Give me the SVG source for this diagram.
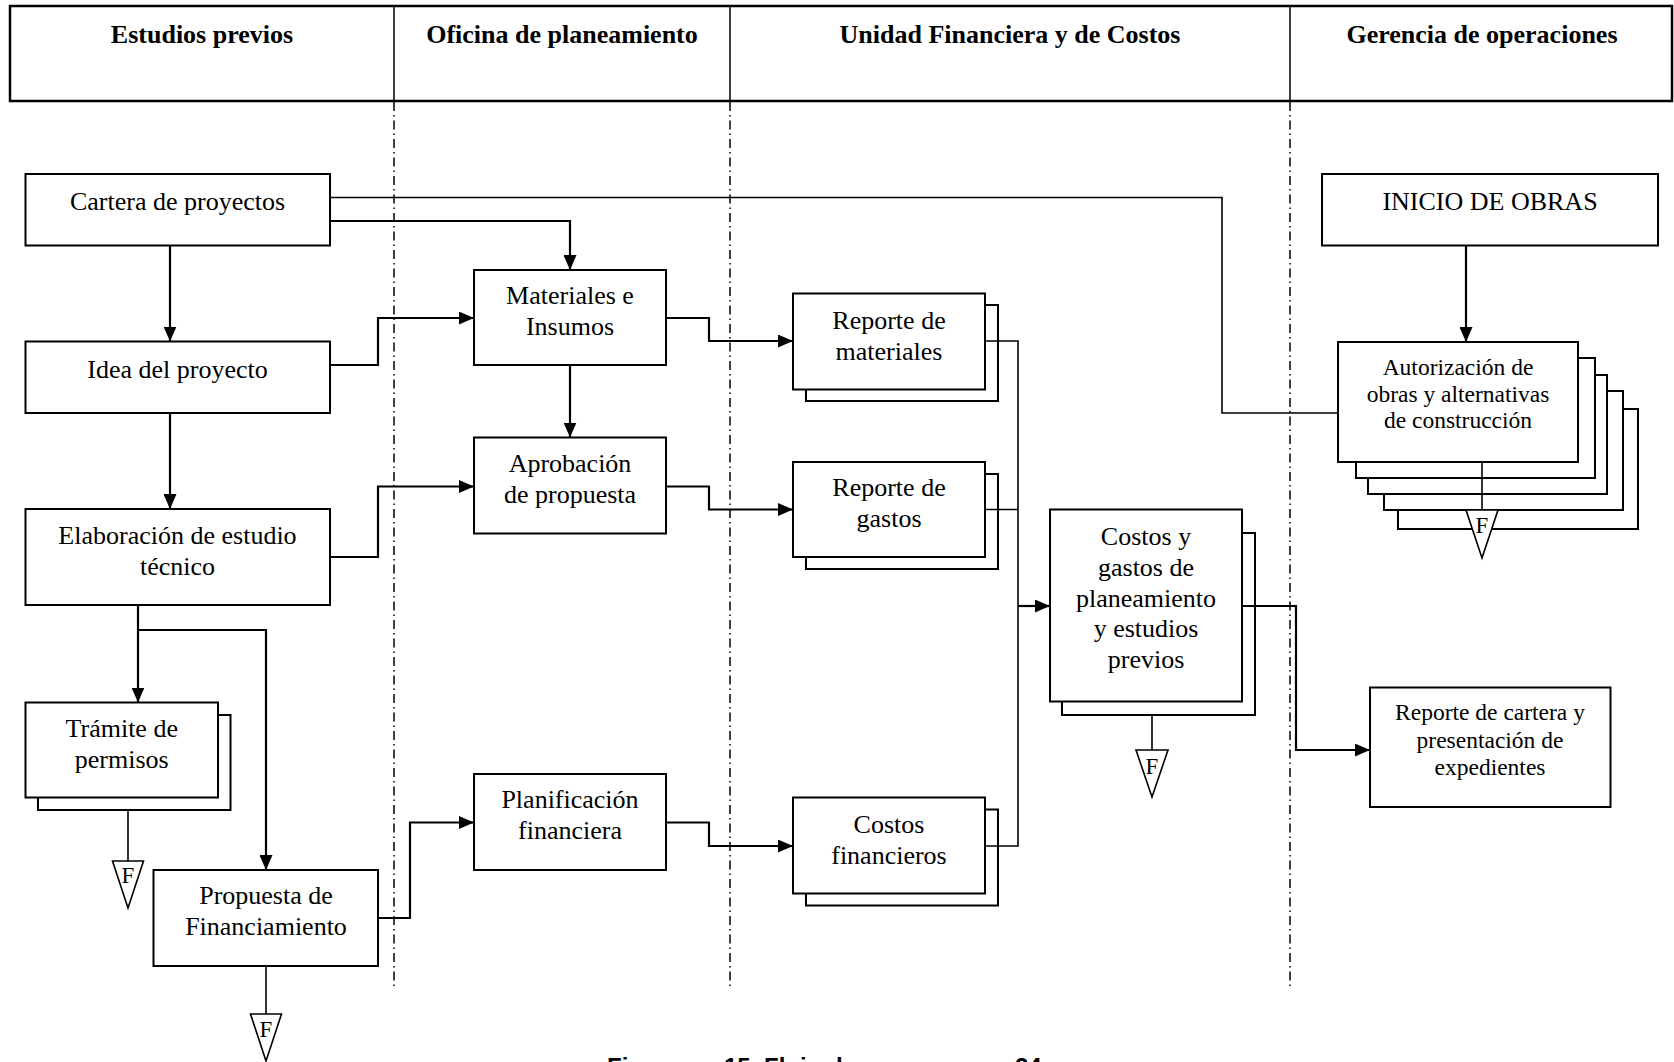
<svg xmlns="http://www.w3.org/2000/svg" width="1674" height="1062" viewBox="0 0 1674 1062">
<style>
  .bx { fill: #fff; stroke: #000; stroke-width: 2; }
  .t { font-family: "Liberation Serif", "Times New Roman", serif; font-size: 26px; text-anchor: middle; fill: #000; }
  .ts { font-family: "Liberation Serif", "Times New Roman", serif; font-size: 23.5px; text-anchor: middle; fill: #000; }
  .h { font-family: "Liberation Serif", "Times New Roman", serif; font-size: 26px; font-weight: bold; text-anchor: middle; fill: #000; }
  .f { font-family: "Liberation Serif", "Times New Roman", serif; font-size: 23px; text-anchor: middle; fill: #000; }
  .lane { stroke: #000; stroke-width: 1.5; stroke-dasharray: 9 4 1.5 4; fill: none; }
  .div { stroke: #000; stroke-width: 1.5; }
  .c { fill: none; stroke: #000; stroke-width: 2.2; }
  .ca { fill: none; stroke: #000; stroke-width: 2.2; marker-end: url(#arr); }
  .cl { fill: none; stroke: #000; stroke-width: 1.6; }
  .tri { fill: #fff; stroke: #000; stroke-width: 1.6; }
  .cap { font-family: "Liberation Sans", Arial, sans-serif; font-size: 24px; font-weight: bold; fill: #000; }
</style>
<defs>
  <marker id="arr" markerUnits="userSpaceOnUse" markerWidth="15" markerHeight="13" refX="15" refY="6.5" orient="auto">
    <path d="M0,0 L15,6.5 L0,13 Z" fill="#000"/>
  </marker>
</defs>

<rect x="0" y="0" width="1674" height="1062" fill="#fff"/>

<!-- Header / swimlanes -->
<g id="header">
  <rect x="10" y="6" width="1662" height="95" fill="none" stroke="#000" stroke-width="2.5"/>
  <line class="div" x1="394" y1="6" x2="394" y2="101"/>
  <line class="div" x1="730" y1="6" x2="730" y2="101"/>
  <line class="div" x1="1290" y1="6" x2="1290" y2="101"/>
  <text class="h" x="202" y="43">Estudios previos</text>
  <text class="h" x="562" y="43">Oficina de planeamiento</text>
  <text class="h" x="1010" y="43">Unidad Financiera y de Costos</text>
  <text class="h" x="1482" y="43">Gerencia de operaciones</text>
</g>
<g id="lanes">
  <line class="lane" x1="394" y1="102" x2="394" y2="990"/>
  <line class="lane" x1="730" y1="102" x2="730" y2="990"/>
  <line class="lane" x1="1290" y1="102" x2="1290" y2="990"/>
</g>

<!-- Nodes -->
<g id="n-cartera">
  <rect class="bx" x="25.5" y="174" width="304.5" height="71.5"/>
  <text class="t" x="177.5" y="210">Cartera de proyectos</text>
</g>
<g id="n-idea">
  <rect class="bx" x="25.5" y="341.5" width="304.5" height="71.5"/>
  <text class="t" x="177.5" y="378">Idea del proyecto</text>
</g>
<g id="n-elaboracion">
  <rect class="bx" x="25.5" y="509" width="304.5" height="96"/>
  <text class="t" x="177.5" y="544"><tspan x="177.5">Elaboración de estudio</tspan><tspan x="177.5" dy="31">técnico</tspan></text>
</g>
<g id="n-tramite">
  <rect class="bx" x="38" y="715" width="192.5" height="95"/>
  <rect class="bx" x="25.5" y="702.5" width="192.5" height="95"/>
  <text class="t" x="121.75" y="737"><tspan x="121.75">Trámite de</tspan><tspan x="121.75" dy="31">permisos</tspan></text>
</g>
<g id="n-propuesta">
  <rect class="bx" x="153.5" y="870" width="224.5" height="96"/>
  <text class="t" x="266" y="904"><tspan x="266">Propuesta de</tspan><tspan x="266" dy="31">Financiamiento</tspan></text>
</g>
<g id="n-materiales">
  <rect class="bx" x="474" y="270" width="192" height="95"/>
  <text class="t" x="570" y="304"><tspan x="570">Materiales e</tspan><tspan x="570" dy="31">Insumos</tspan></text>
</g>
<g id="n-aprobacion">
  <rect class="bx" x="474" y="437.5" width="192" height="96"/>
  <text class="t" x="570" y="472"><tspan x="570">Aprobación</tspan><tspan x="570" dy="31">de propuesta</tspan></text>
</g>
<g id="n-planificacion">
  <rect class="bx" x="474" y="774" width="192" height="96"/>
  <text class="t" x="570" y="808"><tspan x="570">Planificación</tspan><tspan x="570" dy="31">financiera</tspan></text>
</g>
<g id="n-rep-materiales">
  <rect class="bx" x="806" y="305" width="192" height="96"/>
  <rect class="bx" x="793" y="293.5" width="192" height="96"/>
  <text class="t" x="889" y="328.5"><tspan x="889">Reporte de</tspan><tspan x="889" dy="31">materiales</tspan></text>
</g>
<g id="n-rep-gastos">
  <rect class="bx" x="806" y="474" width="192" height="95"/>
  <rect class="bx" x="793" y="462" width="192" height="95"/>
  <text class="t" x="889" y="496"><tspan x="889">Reporte de</tspan><tspan x="889" dy="31">gastos</tspan></text>
</g>
<g id="n-costos-fin">
  <rect class="bx" x="806" y="809.5" width="192" height="96"/>
  <rect class="bx" x="793" y="797.5" width="192" height="96"/>
  <text class="t" x="889" y="833"><tspan x="889">Costos</tspan><tspan x="889" dy="31">financieros</tspan></text>
</g>
<g id="n-costos-gastos">
  <rect class="bx" x="1062" y="533" width="193" height="182"/>
  <rect class="bx" x="1050" y="509.5" width="192" height="192"/>
  <text class="t" x="1146" y="545"><tspan x="1146">Costos y</tspan><tspan x="1146" dy="30.8">gastos de</tspan><tspan x="1146" dy="30.8">planeamiento</tspan><tspan x="1146" dy="30.8">y estudios</tspan><tspan x="1146" dy="30.8">previos</tspan></text>
</g>
<g id="n-inicio">
  <rect class="bx" x="1322" y="174" width="336" height="71.5"/>
  <text class="t" x="1490" y="210">INICIO DE OBRAS</text>
</g>
<g id="n-autorizacion">
  <rect class="bx" x="1398" y="409" width="240" height="120"/>
  <rect class="bx" x="1384" y="391" width="239" height="119"/>
  <rect class="bx" x="1368" y="375" width="239" height="119"/>
  <rect class="bx" x="1356" y="358" width="239" height="120"/>
  <rect class="bx" x="1338" y="342" width="240" height="120"/>
  <text class="ts" x="1458" y="375"><tspan x="1458">Autorización de</tspan><tspan x="1458" dy="26.5">obras y alternativas</tspan><tspan x="1458" dy="26.5">de construcción</tspan></text>
</g>
<g id="n-rep-cartera">
  <rect class="bx" x="1370" y="687.5" width="240.5" height="119.5"/>
  <text class="ts" x="1490" y="720"><tspan x="1490">Reporte de cartera y</tspan><tspan x="1490" dy="27.5">presentación de</tspan><tspan x="1490" dy="27.5">expedientes</tspan></text>
</g>

<!-- Connectors -->
<g id="connectors">
  <path class="ca" d="M170,245.5 V341.5"/>
  <path class="ca" d="M170,413 V509"/>
  <path class="ca" d="M330,221 H570 V270"/>
  <path class="cl" d="M330,197.5 H1222 V413 H1338"/>
  <path class="ca" d="M330,365 H378 V318 H474"/>
  <path class="ca" d="M330,557 H378 V486.5 H474"/>
  <path class="ca" d="M570,365 V437.5"/>
  <path class="ca" d="M138,605 V702.5"/>
  <path class="ca" d="M138,630 H266 V870"/>
  <path class="ca" d="M378,918 H410 V822.5 H474"/>
  <path class="ca" d="M666,318 H709 V341 H793"/>
  <path class="ca" d="M666,486.5 H709 V509.5 H793"/>
  <path class="ca" d="M666,822.5 H709 V846 H793"/>
  <path class="cl" d="M985,341 H1018 V846 H985"/>
  <path class="cl" d="M985,509.5 H1018"/>
  <path class="ca" d="M1018,606 H1050"/>
  <path class="ca" d="M1242,606 H1296 V750 H1370"/>
  <path class="ca" d="M1466,245.5 V342"/>
  <!-- lines to F terminals -->
  <path class="cl" d="M128,810 V861"/>
  <path class="cl" d="M266,966 V1014"/>
  <path class="cl" d="M1152,715 V750"/>
  <path class="cl" d="M1482,462 V510"/>
</g>

<!-- F terminals -->
<g id="f-tramite">
  <path class="tri" d="M112.5,861 H143.5 L128,908 Z"/>
  <text class="f" x="128" y="883">F</text>
</g>
<g id="f-propuesta">
  <path class="tri" d="M250.5,1014 H281.5 L266,1061 Z"/>
  <text class="f" x="266" y="1037">F</text>
</g>
<g id="f-costos">
  <path class="tri" d="M1136,750 H1168 L1152,797 Z"/>
  <text class="f" x="1152" y="774">F</text>
</g>
<g id="f-autorizacion">
  <path class="tri" d="M1466,510 H1498 L1482,558 Z"/>
  <text class="f" x="1482" y="533">F</text>
</g>

<text class="cap" y="1075"><tspan x="607">Figura</tspan><tspan x="724">15. Flujo de proceso</tspan><tspan x="1015">24</tspan></text>
</svg>
